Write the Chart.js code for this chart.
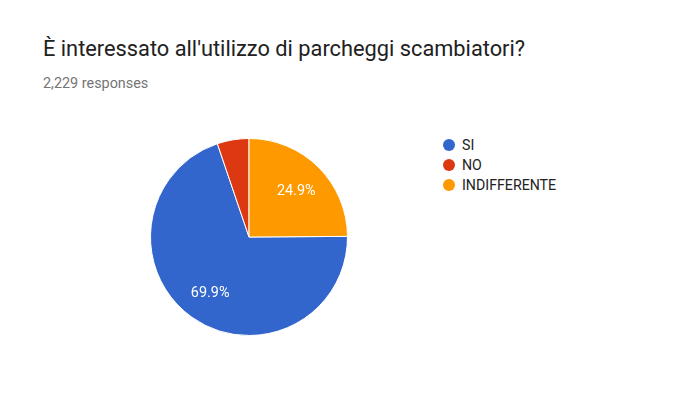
<!DOCTYPE html>
<html>
<head>
<meta charset="utf-8">
<script src="https://cdn.jsdelivr.net/npm/chart.js@4"></script>
<style>
  html, body { margin:0; padding:0; background:#fff; }
  body { width:696px; height:399px; position:relative; overflow:hidden; font-family:Roboto, Arial, sans-serif; }
  #title { position:absolute; left:43px; top:36px; font-size:21.8px; color:#212121; white-space:nowrap; }
  #sub { position:absolute; left:43px; top:75px; font-size:14.4px; color:#757575; }
  #wrap { position:absolute; left:150px; top:138px; width:198px; height:198px; }
  #legend { position:absolute; left:443px; top:135px; list-style:none; margin:0; padding:0; font-size:14.2px; color:#222; }
  #legend li { height:20px; line-height:20px; display:flex; align-items:center; }
  .dot { width:12px; height:12px; border-radius:50%; margin-right:7px; display:inline-block; }
</style>
</head>
<body>
<div id="title"></div>
<div id="sub"></div>
<div id="wrap"><canvas id="chart"></canvas></div>
<ul id="legend"></ul>
<script>
const title = "È interessato all'utilizzo di parcheggi scambiatori?";
const responses = 2229;
const labels = ['SI', 'NO', 'INDIFFERENTE'];
const counts = [1558, 116, 555];
const colors = ['#3366CC', '#DC3912', '#FF9900'];

document.getElementById('title').textContent = title;
document.getElementById('sub').textContent = responses.toLocaleString('en-US') + ' responses';
document.getElementById('legend').innerHTML = labels.map((l, i) =>
  `<li><span class="dot" style="background:${colors[i]}"></span>${l}</li>`).join('');

const total = counts.reduce((a, b) => a + b, 0);
// google draws the last slice first from the top, so start SI after it
const startDeg = counts[2] / total * 360;

const pctLabels = {
  id: 'pctLabels',
  afterDatasetsDraw(chart){
    const ctx = chart.ctx;
    const meta = chart.getDatasetMeta(0);
    ctx.save();
    ctx.fillStyle = '#fff';
    ctx.font = '14.4px Roboto, Arial, sans-serif';
    ctx.textAlign = 'center';
    ctx.textBaseline = 'middle';
    meta.data.forEach((arc, i) => {
      const pct = counts[i] / total * 100;
      if (pct < 10) return;
      const mid = (arc.startAngle + arc.endAngle) / 2;
      const r = arc.outerRadius * 0.68;
      ctx.fillText(pct.toFixed(1) + '%', arc.x + Math.cos(mid) * r, arc.y + Math.sin(mid) * r + 2);
    });
    ctx.restore();
  }
};

new Chart(document.getElementById('chart'), {
  type: 'pie',
  data: {
    labels: labels,
    datasets: [{
      data: counts,
      backgroundColor: colors,
      borderColor: '#fff',
      borderWidth: 1,
      hoverOffset: 0
    }]
  },
  options: {
    responsive: true,
    maintainAspectRatio: false,
    animation: false,
    rotation: startDeg,
    layout: { padding: 0 },
    plugins: { legend: { display: false }, tooltip: { enabled: false } }
  },
  plugins: [pctLabels]
});
</script>
</body>
</html>
